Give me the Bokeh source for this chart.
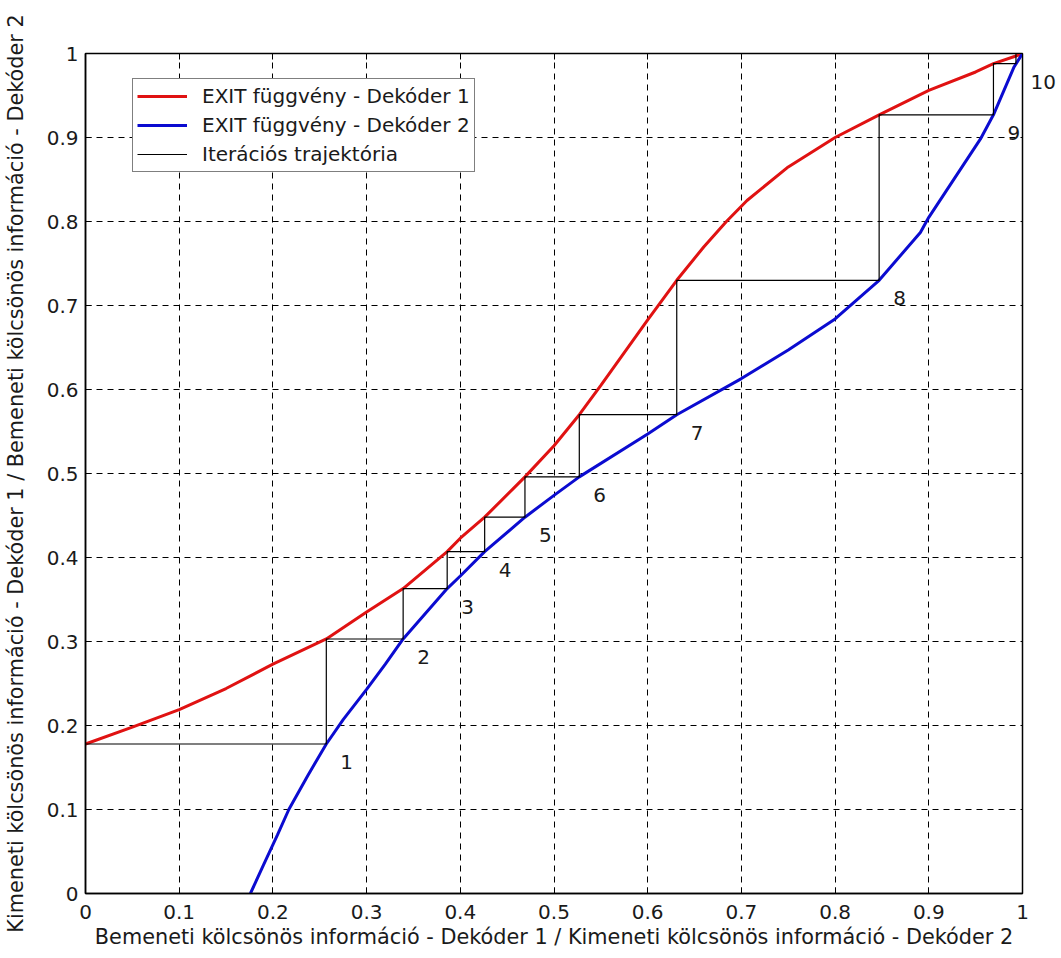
from bokeh.plotting import figure
from bokeh.models import (ColumnDataSource, LinearAxis, FixedTicker, Range1d,
                          Legend, LegendItem, LabelSet)
from bokeh.core.properties import value
from bokeh.embed import file_html
from bokeh.resources import INLINE

# EXIT function of decoder 1 (red)
red_x = [0.0, 0.05, 0.1, 0.15, 0.2, 0.257, 0.3, 0.339, 0.386, 0.4, 0.426, 0.469,
         0.5, 0.527, 0.55, 0.6, 0.631, 0.66, 0.684, 0.706, 0.75, 0.8, 0.847, 0.9,
         0.95, 0.969, 0.993, 1.0]
red_y = [0.178, 0.198, 0.219, 0.244, 0.273, 0.303, 0.335, 0.363, 0.407, 0.423,
         0.448, 0.496, 0.533, 0.570, 0.605, 0.683, 0.730, 0.770, 0.800, 0.825,
         0.865, 0.900, 0.927, 0.956, 0.978, 0.988, 0.997, 1.0]

# EXIT function of decoder 2 (blue)
blue_x = [0.176, 0.19, 0.205, 0.217, 0.237, 0.257, 0.275, 0.3, 0.32, 0.339,
          0.386, 0.4, 0.426, 0.469, 0.5, 0.527, 0.6, 0.631, 0.7, 0.75, 0.8,
          0.847, 0.891, 0.9, 0.955, 0.969, 0.991, 1.0]
blue_y = [0.0, 0.034, 0.070, 0.100, 0.140, 0.178, 0.207, 0.243, 0.273, 0.303,
          0.363, 0.378, 0.407, 0.448, 0.474, 0.496, 0.547, 0.570, 0.613, 0.647,
          0.684, 0.730, 0.787, 0.805, 0.898, 0.927, 0.984, 1.0]

# iteration trajectory: x where each step meets curve 2, y levels reached on curve 1
step_x = [0.257, 0.339, 0.386, 0.426, 0.469, 0.527, 0.631, 0.847, 0.969, 0.993]
step_y = [0.178, 0.303, 0.363, 0.407, 0.448, 0.496, 0.570, 0.730, 0.927, 0.988, 1.0]
step_labels = ["1", "2", "3", "4", "5", "6", "7", "8", "9", "10"]

tick_values = [0, 0.1, 0.2, 0.3, 0.4, 0.5, 0.6, 0.7, 0.8, 0.9, 1]
tick_labels = ["0", "0.1", "0.2", "0.3", "0.4", "0.5", "0.6", "0.7", "0.8", "0.9", "1"]

legend_labels = ["EXIT függvény - Dekóder 1", "EXIT függvény - Dekóder 2",
                 "Iterációs trajektória"]
x_title = "Bemeneti kölcsönös információ - Dekóder 1 / Kimeneti kölcsönös információ - Dekóder 2"
y_title = "Kimeneti kölcsönös információ - Dekóder 1 / Bemeneti kölcsönös információ - Dekóder 2"

FONT = "DejaVu Sans"
FSIZE = "20px"
TITLE_SIZE = "20.8px"
TXT = "#1a1a1a"
FRAME_H = 840
LABEL_DROP = 18  # px below the step point

# trajectory path
traj_x = [0.0]
traj_y = [step_y[0]]
for i, sx in enumerate(step_x):
    traj_x += [sx, sx]
    traj_y += [step_y[i], step_y[i + 1]]

p = figure(frame_width=937, frame_height=FRAME_H,
           x_range=Range1d(0, 1), y_range=Range1d(0, 1),
           output_backend="svg", toolbar_location=None,
           min_border_left=85, min_border_top=53, min_border_right=39,
           min_border_bottom=63)
p.outline_line_color = "black"
p.outline_line_width = 1.5
p.background_fill_color = "white"
p.border_fill_color = "white"

overrides = {v: t for v, t in zip(tick_values, tick_labels)}
for ax in (p.xaxis[0], p.yaxis[0]):
    ax.ticker = FixedTicker(ticks=tick_values)
    ax.major_label_overrides = overrides
    ax.major_tick_in = 6
    ax.major_tick_out = 0
    ax.minor_tick_line_color = None
    ax.axis_line_color = "black"
    ax.axis_line_width = 1.5
    ax.major_tick_line_color = "black"
    ax.major_label_text_font = FONT
    ax.major_label_text_font_size = FSIZE
    ax.major_label_text_color = TXT
    ax.axis_label_text_font = FONT
    ax.axis_label_text_font_size = TITLE_SIZE
    ax.axis_label_text_font_style = "normal"
    ax.axis_label_text_color = TXT

p.xaxis[0].axis_label = x_title
p.yaxis[0].axis_label = y_title
p.xaxis[0].major_label_standoff = 11
p.xaxis[0].axis_label_standoff = 3
p.yaxis[0].major_label_standoff = 7
p.yaxis[0].axis_label_standoff = 16

# top axis: inward ticks only (box like the original)
top_ax = LinearAxis(ticker=FixedTicker(ticks=tick_values), major_tick_in=6,
                    major_tick_out=0, minor_tick_line_color=None,
                    axis_line_color="black",
                    major_label_overrides={v: "" for v in tick_values},
                    major_label_standoff=0)
p.add_layout(top_ax, "above")

# right axis carries the last iteration number, which lies outside the frame
last_y = step_y[-2] - LABEL_DROP / FRAME_H
right_ax = LinearAxis(ticker=FixedTicker(ticks=[last_y]), major_tick_in=0,
                      major_tick_out=0, minor_tick_line_color=None,
                      axis_line_color=None,
                      major_label_overrides={last_y: step_labels[-1]},
                      major_label_standoff=8, major_label_text_font=FONT,
                      major_label_text_font_size=FSIZE,
                      major_label_text_color=TXT)
p.add_layout(right_ax, "right")

p.xgrid.ticker = FixedTicker(ticks=tick_values[1:-1])
p.ygrid.ticker = FixedTicker(ticks=tick_values[1:-1])
p.grid.grid_line_color = "black"
p.grid.grid_line_alpha = 1
p.grid.grid_line_width = 1
p.grid.grid_line_dash = "6 5"

r_red = p.line(red_x, red_y, line_color="#e01212", line_width=3)
r_blue = p.line(blue_x, blue_y, line_color="#0b0bd0", line_width=3)
r_traj = p.line(traj_x, traj_y, line_color="black", line_width=1.2)

lab_src = ColumnDataSource(dict(x=step_x[:-1], y=step_y[:-2], t=step_labels[:-1]))
labels = LabelSet(x="x", y="y", text="t", source=lab_src, x_offset=14,
                  y_offset=-LABEL_DROP, text_baseline="middle", text_align="left",
                  text_font=value(FONT), text_font_size=value(FSIZE),
                  text_color=TXT)
p.add_layout(labels)

legend = Legend(items=[LegendItem(label=legend_labels[0], renderers=[r_red]),
                       LegendItem(label=legend_labels[1], renderers=[r_blue]),
                       LegendItem(label=legend_labels[2], renderers=[r_traj])],
                location=(47, 721), padding=4, spacing=3, margin=0,
                glyph_width=50, glyph_height=26, label_height=26,
                label_standoff=15, label_text_font=FONT,
                label_text_font_size=FSIZE, label_text_color=TXT,
                border_line_color="black", border_line_width=1.2,
                background_fill_color="white", background_fill_alpha=1)
p.add_layout(legend)

open("out.html", "w").write(file_html(p, INLINE))
